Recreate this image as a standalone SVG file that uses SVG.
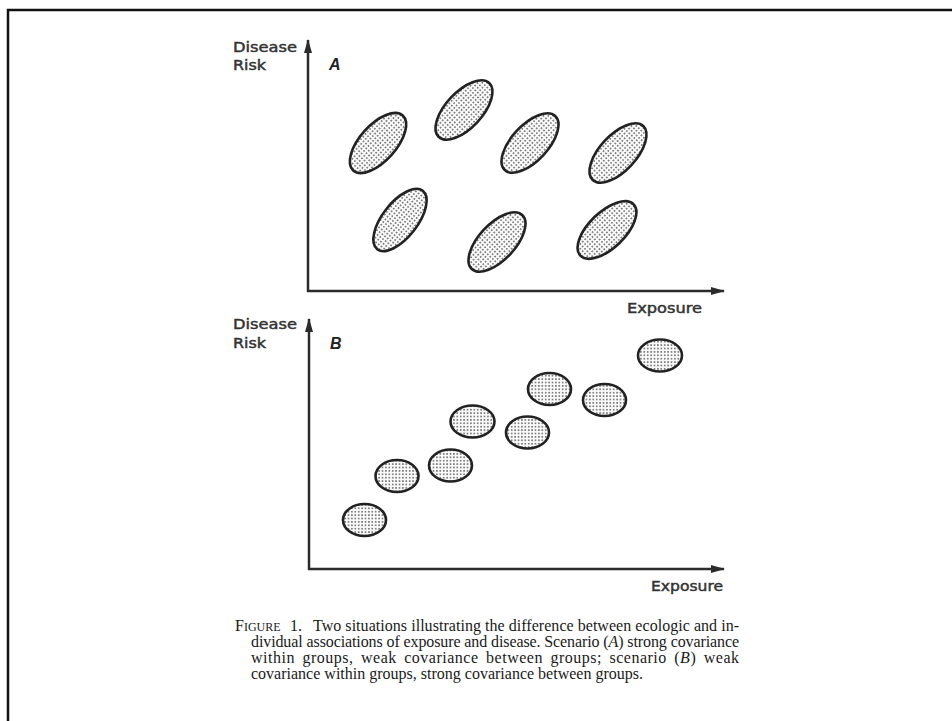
<svg xmlns="http://www.w3.org/2000/svg" width="952" height="721" viewBox="0 0 952 721">
<style>
.ax{stroke:#2b2b2b;stroke-width:2.5;fill:none}
.blob{fill:url(#dots);stroke:#222;stroke-width:2.6}
.lab{font-family:"DejaVu Sans",sans-serif;font-size:13.5px;fill:#333;stroke:#333;stroke-width:0.45}
.pl{font-family:"Liberation Sans",sans-serif;font-size:16px;font-style:italic;font-weight:bold;fill:#222}
.cap{font-family:"Liberation Serif",serif;font-size:16px;fill:#1a1a1a}
</style>
<defs>
<pattern id="dots" width="3.4" height="3.4" patternUnits="userSpaceOnUse">
<rect width="3.4" height="3.4" fill="#fafafa"/>
<circle cx="1.7" cy="1.7" r="0.8" fill="#4a4a4a"/>
</pattern>
<marker id="ah" viewBox="0 0 14 8" refX="13" refY="4" markerWidth="14" markerHeight="8" markerUnits="userSpaceOnUse" orient="auto">
<path d="M0,0 L14,4 L0,8 Z" fill="#2b2b2b"/>
</marker>
</defs>
<rect width="952" height="721" fill="#fff"/>
<path d="M8,730 V10 H960" fill="none" stroke="#111" stroke-width="2.5"/>

<g id="connectors">
<line class="ax" x1="308" y1="292" x2="308" y2="40" marker-end="url(#ah)"/>
<line class="ax" x1="307" y1="291" x2="724" y2="291" marker-end="url(#ah)"/>
<line class="ax" x1="309" y1="570" x2="309" y2="319" marker-end="url(#ah)"/>
<line class="ax" x1="308" y1="569" x2="724" y2="569" marker-end="url(#ah)"/>
</g>

<g id="panelA-labels">
<text class="lab" x="233" y="52" textLength="64" lengthAdjust="spacingAndGlyphs">Disease</text>
<text class="lab" x="233" y="70" textLength="33" lengthAdjust="spacingAndGlyphs">Risk</text>
<text class="pl" x="329" y="70">A</text>
<text class="lab" x="627" y="313" textLength="75" lengthAdjust="spacingAndGlyphs">Exposure</text>
</g>

<g id="panelA-groups">
<ellipse id="a1" class="blob" cx="0" cy="0" rx="37" ry="18" transform="translate(378,143) rotate(-48)"/>
<ellipse id="a2" class="blob" cx="0" cy="0" rx="37" ry="18" transform="translate(464,110) rotate(-47)"/>
<ellipse id="a3" class="blob" cx="0" cy="0" rx="37" ry="18" transform="translate(530,143) rotate(-47)"/>
<ellipse id="a4" class="blob" cx="0" cy="0" rx="37" ry="18" transform="translate(618,153) rotate(-47)"/>
<ellipse id="a5" class="blob" cx="0" cy="0" rx="37" ry="17.5" transform="translate(400,220) rotate(-52)"/>
<ellipse id="a6" class="blob" cx="0" cy="0" rx="37" ry="18" transform="translate(497,242) rotate(-47)"/>
<ellipse id="a7" class="blob" cx="0" cy="0" rx="37" ry="18" transform="translate(607,230) rotate(-44)"/>
</g>

<g id="panelB-labels">
<text class="lab" x="233" y="329" textLength="64" lengthAdjust="spacingAndGlyphs">Disease</text>
<text class="lab" x="233" y="348" textLength="33" lengthAdjust="spacingAndGlyphs">Risk</text>
<text class="pl" x="330" y="349">B</text>
<text class="lab" x="651" y="591" textLength="72" lengthAdjust="spacingAndGlyphs">Exposure</text>
</g>

<g id="panelB-groups">
<ellipse id="b1" class="blob" cx="364.5" cy="520" rx="21.5" ry="16"/>
<ellipse id="b2" class="blob" cx="397" cy="476" rx="21.5" ry="16"/>
<ellipse id="b3" class="blob" cx="450.5" cy="465.5" rx="21.5" ry="16"/>
<ellipse id="b4" class="blob" cx="472.5" cy="421.5" rx="22" ry="16"/>
<ellipse id="b5" class="blob" cx="527.5" cy="432.5" rx="21.5" ry="16"/>
<ellipse id="b6" class="blob" cx="549.5" cy="389" rx="21.5" ry="16"/>
<ellipse id="b7" class="blob" cx="604.5" cy="400" rx="21.5" ry="16"/>
<ellipse id="b8" class="blob" cx="660" cy="355.5" rx="22" ry="16"/>
</g>

<g id="caption">
<text class="cap" x="235" y="631">F<tspan font-size="12px">IGURE</tspan><tspan x="290">1.</tspan><tspan x="313" textLength="426" lengthAdjust="spacing">Two situations illustrating the difference between ecologic and in-</tspan></text>
<text class="cap" x="251" y="647" textLength="488" lengthAdjust="spacing">dividual associations of exposure and disease. Scenario (<tspan font-style="italic">A</tspan>) strong covariance</text>
<text class="cap" x="251" y="663" textLength="488" lengthAdjust="spacing" word-spacing="3">within groups, weak covariance between groups; scenario (<tspan font-style="italic">B</tspan>) weak</text>
<text class="cap" x="251" y="679" textLength="392" lengthAdjust="spacing">covariance within groups, strong covariance between groups.</text>
</g>
</svg>
